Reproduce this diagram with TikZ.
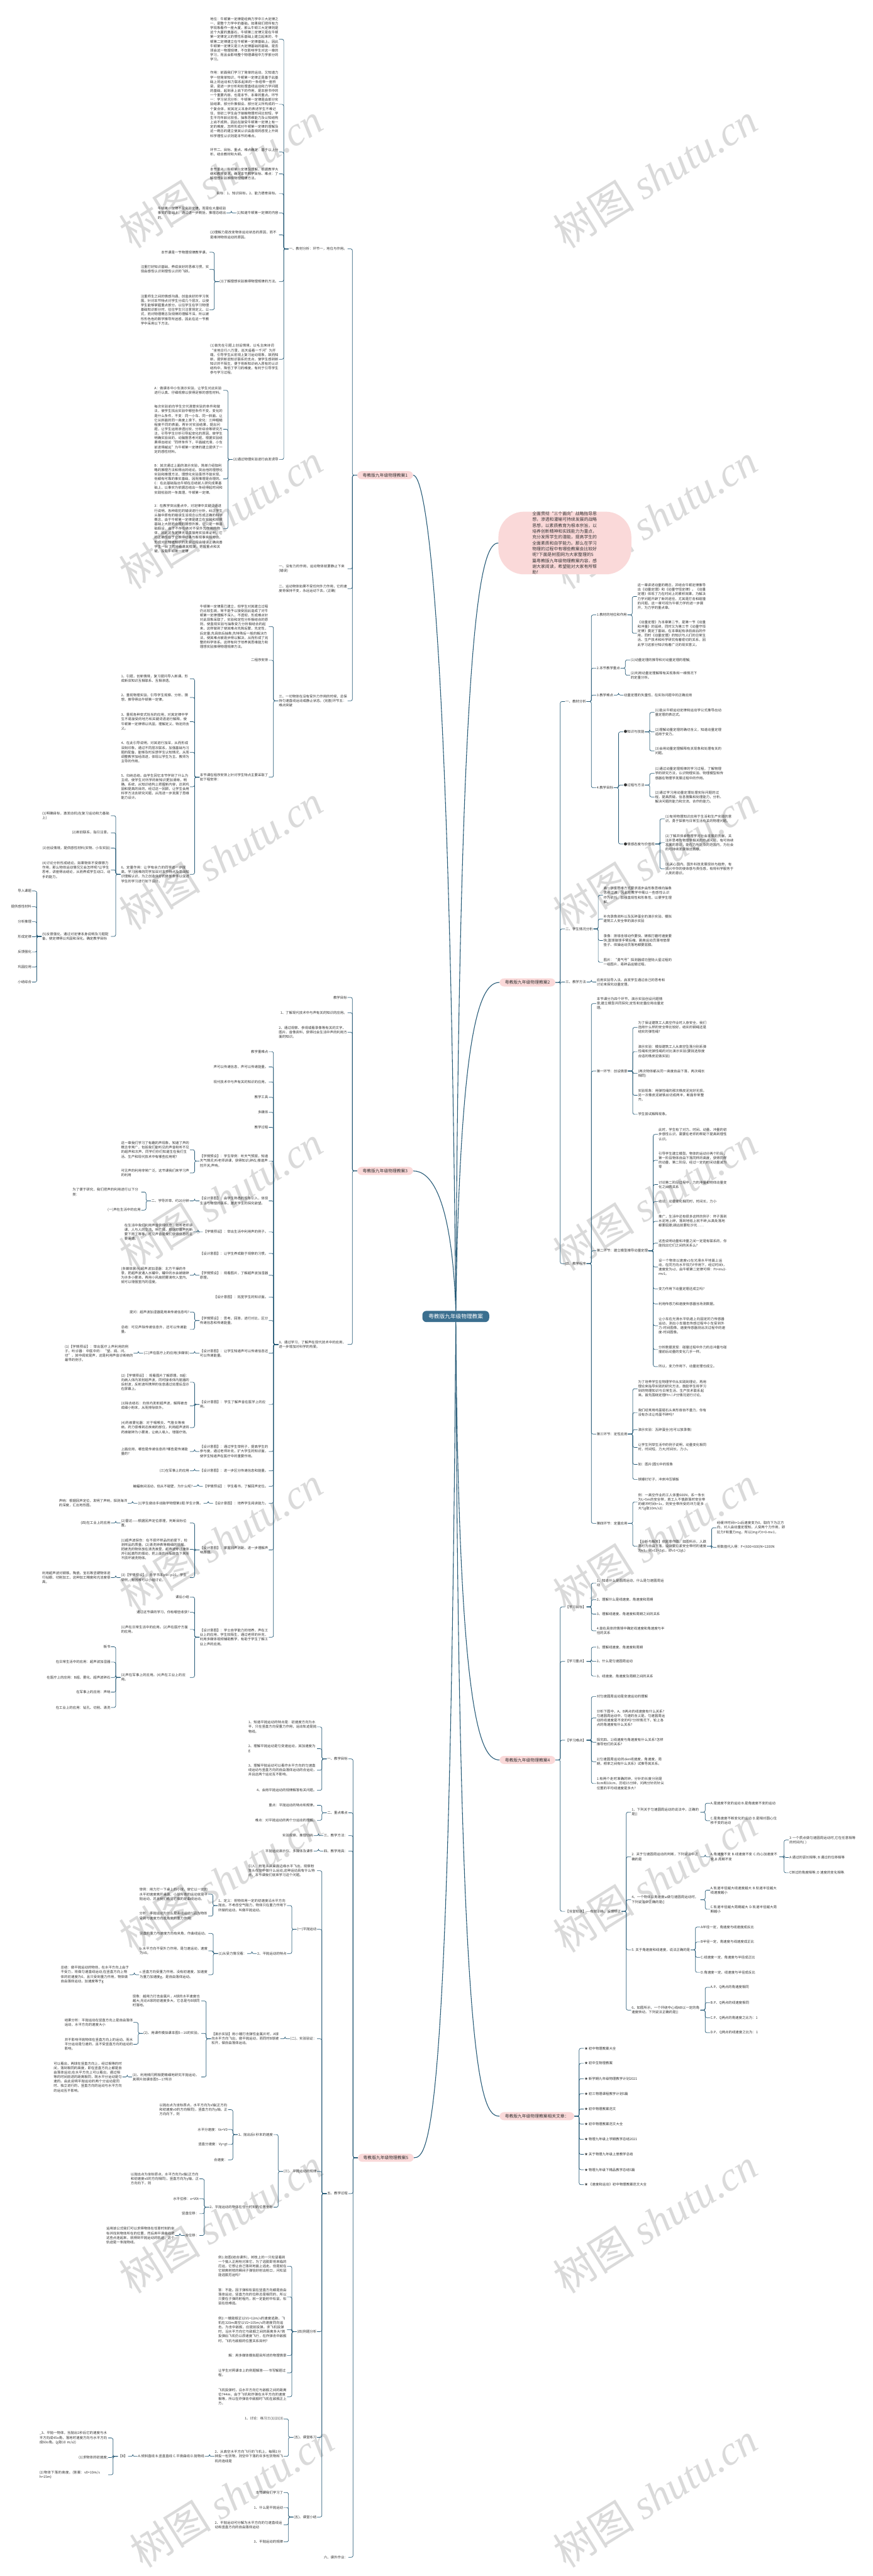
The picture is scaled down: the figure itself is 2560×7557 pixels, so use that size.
\documentclass[tikz,border=0pt]{standalone}
\usepackage{fontspec}
\setmainfont{Noto Sans CJK SC}
\newfontfamily\wmlat{Liberation Serif}
\XeTeXlinebreaklocale "zh"
\XeTeXlinebreakskip=0pt plus 0.5pt
\usetikzlibrary{calc}
\definecolor{txt}{RGB}{51,51,51}
\definecolor{lnc}{RGB}{36,89,118}
\definecolor{pinkc}{RGB}{250,217,217}
\definecolor{ctrc}{RGB}{59,111,143}
\definecolor{wmc}{RGB}{218,218,218}
\newcommand\fs{\fontsize{10pt}{13.2pt}\selectfont}
\newcommand\lchild[5]{\node[#1,anchor=east,xshift=-28pt] (#2) at (#3.west |- 0,#4) {#5};\draw[conn] (#3.west) -- ++(-14,0) |- (#2.east);}
\newcommand\rchild[5]{\node[#1,anchor=west,xshift=28pt] (#2) at (#3.east |- 0,#4) {#5};\draw[conn] (#3.east) -- ++(14,0) |- (#2.west);}
\tikzset{
 ts/.style={font=\fs,text=txt,inner sep=1.5pt},
 tm/.style={ts,text width=200pt,align=left},
 conn/.style={draw=lnc,line width=1.3pt,rounded corners=5pt},
 mainconn/.style={draw=lnc,line width=2pt},
 mn/.style={fill=pinkc,rounded corners=13pt,font=\fontsize{12.5pt}{15pt}\selectfont,text=txt,inner xsep=16pt,inner ysep=6pt},
 cn/.style={fill=ctrc,rounded corners=12pt,font=\fontsize{16pt}{19pt}\selectfont,text=white,inner xsep=18pt,inner ysep=9pt},
 intro/.style={fill=pinkc,rounded corners=75pt,minimum width=390pt,minimum height=182pt,text width=191pt,align=left,font=\fontsize{12.6pt}{17.2pt}\selectfont,text=txt,inner sep=0pt},
 wm/.style={text=wmc,font=\fontsize{120pt}{120pt}\selectfont,rotate=32}
}
\begin{document}
\begin{tikzpicture}[x=1pt,y=-1pt]
\useasboundingbox (0,0) rectangle (2560,7557);
\fill[white] (0,0) rectangle (2560,7557);
\foreach \yy in {515,1515,...,6515}{
 \node[wm] at (648,\yy) {树图 {\wmlat\itshape shutu.cn}};
 \node[wm] at (1922,\yy) {树图 {\wmlat\itshape shutu.cn}};
}
\node[wm] at (680,7320) {树图 {\wmlat\itshape shutu.cn}};
\node[wm] at (1922,7320) {树图 {\wmlat\itshape shutu.cn}};
% main nodes
\node[cn] (ctr) at (1337,3862) {粤教版九年级物理教案};
\node[intro] (intro) at (1657,1593) {全面贯彻“三个面向”战略指导思想，渗透和灌输可持续发展的战略思想，以素质教育为根本宗旨，以培养创新精神和实践能力为重点，充分发挥学生的潜能，提高学生的全面素质和自学能力。那么在学习物理的过程中有哪些教案会比较好呢?下面是树图网为大家整理的5篇粤教版九年级物理教案内容，感谢大家阅读，希望能对大家有所帮助！};
\node[mn,anchor=east] (n1) at (1212,1394) {粤教版九年级物理教案1};
\node[mn,anchor=west] (n2) at (1465,2882) {粤教版九年级物理教案2};
\node[mn,anchor=east] (n3) at (1212,3435) {粤教版九年级物理教案3};
\node[mn,anchor=west] (n4) at (1465,5163) {粤教版九年级物理教案4};
\node[mn,anchor=west] (n6) at (1465,6208) {粤教版九年级物理教案相关文章：};
\node[mn,anchor=east] (n5) at (1214,6330) {粤教版九年级物理教案5};
\draw[mainconn] (ctr.north) .. controls (1318,1800) and (1250,1394) .. (n1.east);
\draw[mainconn] (ctr.north) .. controls (1348,1800) and (1410,1593) .. (intro.west);
\draw[mainconn] (ctr.north) .. controls (1350,3000) and (1410,2882) .. (n2.west);
\draw[mainconn] (ctr.north) .. controls (1325,3500) and (1260,3435) .. (n3.east);
\draw[mainconn] (ctr.south) .. controls (1345,5050) and (1410,5163) .. (n4.west);
\draw[mainconn] (ctr.south) .. controls (1345,6100) and (1410,6208) .. (n6.west);
\draw[mainconn] (ctr.south) .. controls (1320,6250) and (1260,6330) .. (n5.east);
% ================= 篇1
\lchild{ts}{a1}{n1}{730}{一、教材分析：环节一，地位与作用。}
\lchild{tm}{a11}{a1}{115}{地位：牛顿第一定律是经典力学中三大定律之一，是整个力学中的基础。如果我们把所有力学现象看作一座大厦，那么牛顿三大定律则是这个大厦的奠基石，牛顿第二定律又是在牛顿第一定律定义的惯性系基础上建立起来的，牛顿第二定律建立在牛顿第一定律基础上。因此牛顿第一定律又是三大定律基础的基础，是否领会这一物理规律，不仅影响学生对这一章的学习，而且会影响整个物理课程中力学部分的学习。}
\lchild{tm}{a12}{a1}{306}{作用：前面我们学习了简单的运动，又知道力学一些简单知识，牛顿第一定律正是基于此基础上将运动和力联系起来的一条纽带一座桥梁，是进一步分析和处理直线运动和力学问题的基础，起到承上启下的作用，是本册书中的一个重要内容，也是本节、本章的重点。环节一：学习状况分析：牛顿第一定律是由部分实验结果，部分外推假设、部分定义所构成的一个复合体，就其定义本身的表述学生不难记住，但初二学生由于接触物理时间比较短，学生平均年龄比较低，抽象思维能力及认知结构上尚不成熟，因此在接受牛顿第一定律上有一定的难度，怎样形成对牛顿第一定律的理解及这一概念的建立使其认识由直观的感觉上升到科学理性认识则是本节的难点。}
\lchild{tm}{a13}{a1}{446}{环节二、目标、重点、难点确定：基于以上分析，结合教材和大纲。}
\lchild{tm}{a14}{a1}{510}{本节重点：牛顿第一定律及理解，根据教学大纲和教材要求，确定本节教学目标、难点：了解理想实验推得物理规律方法。}
\lchild{ts}{a15}{a1}{568}{目标：1、知识目标。2、能力德育目标。}
\lchild{ts}{a16}{a1}{625}{(1)知道牛顿第一定律的内容}
\lchild{tm}{a161}{a16}{625}{牛顿第一定律不是实验定律，而是在大量经验事实的基础上，通过进一步概括，推理总结出的。}
\lchild{tm}{a17}{a1}{689}{(2)理解力是改变物体运动状态的原因，而不是维持物体运动的原因。}
\lchild{ts}{a18}{a1}{826}{(3)了解理想实验推得物理规律的方法。}
\lchild{ts}{a181}{a18}{740}{本节课是一节物理规律教学课。}
\lchild{tm}{a182}{a18}{790}{注重打好知识基础，养成良好的思维习惯，实现由感性认识到理性认识的飞跃。}
\lchild{tm}{a183}{a18}{909}{注重师生之间的情感沟通，创造良好的学习氛围，针对本节特点对学生分成几个层次，以使学生能够掌握重点部分。以往学生在学习物理基础知识部分时，往往学生只注意背定义、公式，而对物理概念及规律的理解不深，所以被形形色色的数学推导所迷惑，因此在这一节教学中采用以下方法。}
\lchild{tm}{a19}{a1}{1054}{(1)首先在引题上创设情境，以毛主席诗词“坐地日行八万里，巡天遥看一千河”为开端，引导学生从宏观上复习运动现象，故而知新，提供新旧知识联系的支点，使学生感到新知识并不陌生，便于将新知识纳入原有的认识结构中，降低了学习的难度，有利于引导学生参与学习过程。}
\lchild{ts}{a1a}{a1}{1348}{(2)通过物理实验进行启发诱导}
\lchild{tm}{a1a1}{a1a}{1145}{A：做课本中小车演示实验，让学生对此实验进行认真、仔细观察以获得足够的感性材料。}
\lchild{tm}{a1a2}{a1a}{1259}{每次实验前向学生交代清楚实验的条件和做法，使学生找出实验中哪些条件不变，变化的是什么条件，不变：同一小车、同一斜面、让它从斜面的同一高度上滑下，变化：三种粗糙程度不同的表面，再针对实验结果，提出问题，让学生运用渗透比较，分析综合等研究方法，引导学生分析引导起变化的原因，使学生明确实验目的，动脑筋思考问题，根据实验结果得出结论“同样条件下，平面越光滑，小车前进得越远”为牛顿第一定律的建立提供了一定的感性材料。}
\lchild{tm}{a1a3}{a1a}{1405}{B：其次通过上面的演示实验，简单介绍伽利略的推理方法和得出的结论。突出他的理想化实验和推理方法，理想化实验虽然不能实现，但都有可靠的事实基础，因而推理是合理的。C：在此基础指出牛顿在总结前人研究成果基础上，以事实为依据总结出一条经得起时间和实践检验的一条真理，牛顿第一定律。}
\lchild{tm}{a1a4}{a1a}{1551}{3：在教学突出重点中，对定律中关键词语进行说明，各种易犯的错误进行分析，纠正学生头脑中原有的错误生活观念以形成正确的科学概念，由于牛顿第一定律是建立在实验和观察基础上大胆而合理的猜想外推，它只是一种基础假设，由于不存在绝对不受外力作用的物体，因此这条定律无法直接用实验来证明，它的正确性在于它推得结果与客观事实相吻合，形成对比知道知识的发展过程由错误正确完善学生一目了然地看清其框架，把握重点和关键，投影牛顿第一定律}
\lchild{tm}{b1}{n1}{1669}{一、没有力的作用，运动物体就要静止下来(错误)}
\lchild{tm}{b2}{n1}{1727}{二、运动物体如果不受任何外力作用，它的速度将保持不变，永远运动下去。(正确)}
\lchild{tm}{b3}{n1}{2056}{三、一切物体在没有受外力作用的时候，总保持匀速直线运动或静止状态。(完善)环节五：难点突破}
\lchild{tm}{b31}{b3}{1838}{牛顿第一定律虽已建立，但学生对其建立过程仍比较生疏，常不能予以接受因此造成了对牛顿第一定律理解不深入，不透彻，形成难点针对此现象采取了，实验和定性分析相结合的原则，使直观实验与抽象受力分析相结合的起来，这样做到了使其难点先简后繁，先定性，后定量;先具体后抽象;先特殊后一般的解决方法，使其难点被逐步得以解决，从而形成了完整的科学体系。这样有利于培养其思维能力和理想实验推得物理规律方法。}
\lchild{ts}{b32}{b3}{1937}{二程序安排}
\lchild{tm}{b33}{b3}{2280}{本节课在程序安排上针对学生特点主要采取了如下程安排：}
\lchild{tm}{b331}{b33}{1991}{1、引题，创新情境，复习提问导入新课。形成新旧知识互相联系、互相渗透。}
\lchild{tm}{b332}{b33}{2046}{2、重视物理实验，引导学生观察、分析、猜想，推导得出牛顿第一定律。}
\lchild{tm}{b333}{b33}{2117}{3、重视各种变式恰当的应用，对其定律中学生不易接受的地方和关键词语进行解释，使牛顿第一定律得以巩固，理解定义、特定的含义。}
\lchild{tm}{b334}{b33}{2207}{4、在此引导说明，对其进行加深，从而形成深刻印象，通过不同层次联系，加强基础与习题的配备，能够及时反馈学生认知情况，从而调整教学加经改进，体现以学生为主、教师为主导的作用。}
\lchild{tm}{b335}{b33}{2308}{5、归纳总结。由学生回忆本节学到了什么为主线，使学生对所学的新知识更加清晰，明确、系统，从知识结构上把握新内容，达到巩固和提高的目的，经过这一回顾，让学生会用科学方法去研究问题，从而进一步发展了思维能力设计。}
\lchild{tm}{b336}{b33}{2565}{6、定量作用：让学有余力的同学进一步提高，学习困难的同学加深对本节特点及基础知识理解认识，为之创造良好的外部条件以促进学生的学习进行如下设计。}
\lchild{tm}{b3361}{b336}{2393}{(1)明确目标，激发动机(在复习运动和力基础上)}
\lchild{ts}{b3362}{b336}{2443}{(2)新旧联系，指引注意。}
\lchild{ts}{b3363}{b336}{2488}{(3)创设情境，提供感性材料(实物、小车实验)}
\lchild{tm}{b3364}{b336}{2552}{(4)讨论分析形成结论。如果物体不受摩擦力作用，那么物体运动情况又会怎样呢?让学生思考，讲座得出结论，从而养成学生动口，动手的能力。}
\lchild{tm}{b3365}{b336}{2747}{(5)反馈强化，通过对定律本身说明及习题配备，使定律得以巩固和深化。确定教学目标}
\lchild{ts}{g1}{b3365}{2614}{导入课题}
\lchild{ts}{g2}{b3365}{2660}{提供感性材料}
\lchild{ts}{g3}{b3365}{2704}{分析推理}
\lchild{ts}{g4}{b3365}{2748}{形成定律}
\lchild{ts}{g5}{b3365}{2793}{反馈强化}
\lchild{ts}{g6}{b3365}{2837}{巩固应用}
\lchild{ts}{g7}{b3365}{2881}{小结综合}
% ================= 篇2
\rchild{ts}{c1}{n2}{2058}{一、教材分析}
\rchild{ts}{c11}{c1}{1804}{1.教材的地位和作用}
\rchild{tm}{c111}{c11}{1750}{这一章讲述动量的概念，并结合牛顿定律推导出《动量定理》和《动量守恒定律》。《动量定理》体现了力在时间上的累积效果，为解决力学问题开辟了新的途径，尤其是打击和碰撞的问题。这一章可视为牛顿力学的进一步展开，为力学的重点章。}
\rchild{tm}{c112}{c11}{1858}{《动量定理》为本章第二节，是第一节《动量和冲量》的延续，同时又为第三节《动量守恒定律》奠定了基础，在本章起有承前启后的作用，同时《动量定理》的知识与人们的日常生活、生产技术和科学研究有着密切的关系，因此学习这部分知识有着广泛的现实意义。}
\rchild{ts}{c12}{c1}{1960}{2.本节教学重点}
\rchild{ts}{c121}{c12}{1936}{(1)动量定理的推导和对动量定理的理解;}
\rchild{tm}{c122}{c12}{1981}{(2)利用动量定理解释有关现象和一维情况下的定量分析。}
\rchild{ts}{c13}{c1}{2039}{3.教学难点}
\rchild{ts}{c131}{c13}{2039}{动量定理的矢量性，在实际问题中的正确应用}
\rchild{ts}{c14}{c1}{2311}{4.教学目标}
\rchild{ts}{c141}{c14}{2147}{●知识与技能}
\rchild{tm}{c1411}{c141}{2090}{(1)能从牛顿运动定律和运动学公式推导出动量定理的表达式。}
\rchild{tm}{c1412}{c141}{2147}{(2)理解动量定理的确切含义，知道动量定理适用于变力。}
\rchild{tm}{c1413}{c141}{2203}{(3)会用动量定理解释有关现象和处理有关的问题。}
\rchild{ts}{c142}{c14}{2303}{●过程与方法}
\rchild{tm}{c1421}{c142}{2269}{(1)通过动量定理规律的学习过程，了解物理学的研究方法，认识物理实验、物理模型和传感器在物理学发展过程中的作用。}
\rchild{tm}{c1422}{c142}{2338}{(2)通过学习用动量定理处理实际问题的过程，提高质疑、信息搜集和处理能力，分析、解决问题的能力和交流、合作的能力。}
\rchild{ts}{c143}{c14}{2476}{●情感态度与价值观}
\rchild{tm}{c1431}{c143}{2402}{(1)有将物理知识应用于生活和生产实践的意识，勇于探索与日常生活有关的物理问题。}
\rchild{tm}{c1432}{c143}{2472}{(2)了解并体会物理学对社会发展的贡献，关注并思考与物理学相关的热点问题，有可持续发展的意识，能在力所能及的范围内，为社会的可持续发展做出贡献。}
\rchild{tm}{c1433}{c143}{2549}{(3)关心国内、国外科技发展现状与趋势，有振兴中华的使命感与责任感，有将科学服务于人类的意识。}
\rchild{ts}{c2}{n2}{2725}{二、学生情况分析}
\rchild{tm}{c21}{c2}{2626}{高一学生思维方式要求逐步由形象思维向抽象思维过渡，因此在教学中需以一些感性认识作为依托，加强直观性和形象性，以便学生理解。}
\rchild{tm}{c22}{c2}{2696}{补充录像资料以及瓦碎蛋全的演示实验、模拟建筑工人安全带的演示实验}
\rchild{tm}{c23}{c2}{2759}{录像：排球击球动作要快、铸铁打磨时速度要快;篮球接球手臂后缩、跳高运动员落地垫厚垫子、体操运动员落地都要屈膝。}
\rchild{tm}{c24}{c2}{2823}{图片：“勇气号”探测器成功登陆火星过程的一组图片，易碎品运输过程。}
\rchild{ts}{c3}{n2}{2881}{三、教学方法}
\rchild{tm}{c31}{c3}{2881}{应用实验导入法、启发学生通过自己的思考和讨论来探究动量定理。}
\rchild{ts}{c4}{n2}{3707}{四、教学程序}
\rchild{tm}{c41}{c4}{2944}{本节课分为四个环节，演示实验创设问题情景;建立模型共同探究;定性和定量应用动量定理。}
\rchild{ts}{c42}{c4}{3142}{第一环节：创设情景}
\rchild{tm}{c421}{c42}{3014}{为了保证建筑工人高空作业时人身安全，我们选用什么样的安全带比较好。结实的钢绳还是结实的弹性绳?}
\rchild{tm}{c422}{c42}{3085}{演示实验：模拟建筑工人从高空坠落分别系弹性绳和无弹性绳的对比演示实验(要挑选软度合适的橡皮泥做实验)}
\rchild{tm}{c423}{c42}{3149}{(两次物体都从同一高度自由下落，两次绳长相同)}
\rchild{tm}{c424}{c42}{3213}{实验现象：用弹性绳的那次橡皮泥完好无损。另一次橡皮泥被铁丝切成两半，断面非常整齐。}
\rchild{ts}{c425}{c42}{3269}{学生尝试解释现象。}
\rchild{ts}{c43}{c4}{3669}{第二环节：建立模型推导动量定理}
\rchild{tm}{c431}{c43}{3328}{此时，学生有了对力、时间、动量、冲量的初步感性认识，需要在老师的帮助下提高到理性认识。}
\rchild{tm}{c432}{c43}{3404}{引导学生建立模型。物体的运动分两个阶段，第一阶段物体自由下落同样的高度，获得同样的动量，第二阶段，经过一定的时间动量减为零}
\rchild{tm}{c433}{c43}{3475}{讨论第二阶段过程中，力的冲量和物体动量变化之间的关系}
\rchild{ts}{c434}{c43}{3525}{结论：动量变化相同时，时间长，力小}
\rchild{tm}{c435}{c43}{3583}{推广，生活中还有很多这样的例子：杯子落到水泥地上碎，落到地毯上就不碎;从高处落地都要屈膝;跳远前要松沙坑……}
\rchild{tm}{c436}{c43}{3647}{这些说明动量和冲量之间一定是有联系的，你能找出它们之间的关系么?}
\rchild{tm}{c437}{c43}{3717}{设一个物体以速度v1在光滑水平地面上运动，在同方向水平恒力F作用下，经过时间t，速度变为v2，由牛顿第二定律可得：Ft=mv2-mv1。}
\rchild{ts}{c438}{c43}{3781}{变力作用下动量定理还成立吗?}
\rchild{ts}{c439}{c43}{3825}{利用传感力和速度传感器当场测数据。}
\rchild{tm}{c4310}{c43}{3889}{让小车在光滑水平轨道上向固定的力传感器运动，测出小车撞击传感过程中小车受到外力-时间图像，速度传感器测出次过程中的速度-时间图像。}
\rchild{tm}{c4311}{c43}{3959}{分析数据发现：碰撞过程中外力的总冲量与碰撞前后动量的变化几乎一样。}
\rchild{ts}{c4312}{c43}{4009}{所以，变力作用下，动量定理也成立。}
\rchild{ts}{c44}{c4}{4207}{第三环节：定性应用}
\rchild{tm}{c441}{c44}{4074}{为了培养学生在物理学中从实践到理论，再用理论来指导实践的研究方法，鼓励学生将学习到的物理知识与日常生活、生产技术联系起来。首先围绕定理Ft=△P分情况进行讨论。}
\rchild{tm}{c442}{c44}{4144}{我们经常用鸡蛋碰石头来形容自不量力，你有没有办法让鸡蛋不碎吗?}
\rchild{ts}{c443}{c44}{4194}{演示实验：瓦碎蛋全(也可以放录像)}
\rchild{tm}{c444}{c44}{4246}{让学生列举生活中的例子说明，动量变化相同时，时间短，力大;时间长，力小。}
\rchild{ts}{c445}{c44}{4296}{如：图片(图5)中的现象}
\rchild{ts}{c446}{c44}{4340}{铁锤钉钉子，冲床冲压钢板}
\rchild{ts}{c45}{c4}{4469}{第四环节：定量应用}
\rchild{tm}{c451}{c45}{4406}{例：一高空作业的工人体重600N，系一条长为L=5m的安全带，若工人不慎跌落时安全带的缓冲时间t=1s，则安全带所受的冲力是多大?(g取10m/s2)}
\rchild{tm}{c452}{c45}{4536}{【分析与解答】依题意作图，如图所示，人跌落时为自由下落，设刚要拉紧安全带时的速度为v1，则v12=2gL，即v1=(2gL)}
\rchild{tm}{c4521}{c452}{4482}{经缓冲时间t=1s后速度变为0，取向下为正方向，对人由动量定理知，人受两个力作用，即拉力F和重力mg，所以(mg-F)t=0-mv1，}
\rchild{ts}{c4522}{c452}{4539}{将数值代入得：F=(600+600)N=1200N}
% ================= 篇3
\lchild{ts}{d1}{n3}{2926}{教学目标}
\lchild{ts}{d2}{n3}{2971}{1、了解现代技术中与声有关的知识的应用。}
\lchild{tm}{d3}{n3}{3028}{2、通过观察、参观或看录像等有关的文字、图片、音像资料，获得社会生活中声的利用方面的知识。}
\lchild{tm}{d4}{n3}{3944}{3、通过学习，了解声在现代技术中的应用，进一步增加对科学的热爱。}
\lchild{ts}{q1}{d4}{3085}{教学重难点}
\lchild{ts}{q2}{d4}{3130}{声可以传递信息，声可以传递能量。}
\lchild{ts}{q3}{d4}{3174}{现代技术中与声有关的知识的应用。}
\lchild{ts}{q4}{d4}{3219}{教学工具}
\lchild{ts}{q5}{d4}{3263}{多媒体}
\lchild{ts}{q6}{d4}{3307}{教学过程}
\lchild{tm}{q7}{d4}{3406}{【学情预设】：学生举例：听天气预报，知道天气情况;听老师讲课，获得知识;碎石;楼道声控开关;声呐。}
\lchild{tm}{q71}{q7}{3373}{这一章我们学习了有趣的声现象，知道了声的概念非常广，包括我们能听见的声音和听不见的超声和次声，同学们你们知道生在我们生活、生产和现代技术中有哪些应用呢?}
\lchild{tm}{q72}{q7}{3441}{可见声的利用非常广泛，这节课我们来学习声的利用}
\lchild{tm}{q8}{d4}{3523}{【设计意图】：由学生熟悉的现象引入，体现生活与物理的联系，激发学生的探究欲望。}
\lchild{ts}{q81}{q8}{3523}{二、学导并举、约26分钟}
\lchild{tm}{q811}{q81}{3497}{为了便于研究，我们把声的利用进行以下分类：}
\lchild{ts}{q812}{q81}{3550}{(一)声在生活中的应用}
\lchild{ts}{q9}{d4}{3614}{【学情预设】：举出生活中利用声的例子。}
\lchild{tm}{q91}{q9}{3614}{在生活中我们利用声音获得信息：如听老师讲课，人与人的交流，听广播，根据打雷声判断要下雨了等等，可见声音是我们获得信息的主要渠道。}
\lchild{ts}{q10}{d4}{3677}{【设计意图】：让学生养成勤于观察的习惯。}
\lchild{tm}{q11}{d4}{3741}{【学情预设】：观看图片，了解超声波加湿器原理。}
\lchild{tm}{q111}{q11}{3741}{(多媒体展示)超声波加湿器：北方干燥的冬季，把超声波通入水罐中，罐中的水会被破碎为许多小雾滴，再用小风扇把雾滴吹入室内，就可以增强室内的湿度。}
\lchild{ts}{q12}{d4}{3805}{【设计意图】：拓宽学生的知识面。}
\lchild{tm}{q13}{d4}{3874}{【学情预设】：思考，回答，进行对比，区分传递信息和传递能量。}
\lchild{ts}{q131}{q13}{3849}{提问：超声波加湿器是用来传递信息吗?}
\lchild{tm}{q132}{q13}{3900}{总结：可见声除传递信息外，还可以传递能量。}
\lchild{tm}{q14}{d4}{3970}{【设计意图】：让学生知道声可以传递信息还可以传递能量。}
\lchild{ts}{q141}{q14}{3970}{(二)声在医疗上的应用(多媒体)}
\lchild{tm}{q1411}{q141}{3970}{(1)【学情预设】：举出医疗上声利用的例子。听诊器：中医中的：“望、闻、问、切”，其中闻就是声，这是利用声音诊断病的最早的例子。}
\lchild{tm}{q15}{d4}{4120}{【设计意图】：学生了解声音在医学上的应用。}
\lchild{tm}{q151}{q15}{4055}{(2)【学情预设】：观看图片了解原理。B超：向病人体内发射超声波，同时接收体内脏器的反射波，反射波所携带的信息通过处理后显示在屏幕上。}
\lchild{tm}{q152}{q15}{4124}{(3)除去结石：向体内发射超声波，解释被击成细小粉末，从而排除体外。}
\lchild{tm}{q153}{q15}{4188}{(4)药液雾化器：对于咽喉炎、气管炎等疾病，药力很难到达疾病的部位，利用超声波将药液破碎为小雾滴，让病人吸入，增强疗效。}
\lchild{tm}{q16}{d4}{4258}{【设计意图】：通过学生举例子，提高学生的参与度，通过老师补充，扩大学生的知识面，使学生知道声在医疗中的重要作用。}
\lchild{tm}{q161}{q16}{4258}{上面应用，哪些是传递信息的?哪些是传递能量的?}
\lchild{ts}{q17}{d4}{4315}{【设计意图】：进一步区分传递信息和能量。}
\lchild{ts}{q171}{q17}{4315}{(三)在军事上的应用}
\lchild{ts}{q18}{d4}{4360}{【学情预设】：学生看书，了解回声定位。}
\lchild{ts}{q181}{q18}{4360}{蝙蝠夜间活动，但从不碰壁，为什么呢?}
\lchild{ts}{q19}{d4}{4410}{【设计意图】：培养学生阅读能力。}
\lchild{ts}{q191}{q19}{4410}{(1)学生做动手动脑学物理第2题.学生计算。}
\lchild{tm}{q1911}{q191}{4410}{声呐：根据回声定位，发明了声呐，探测海洋的深度，汇出地形图。}
\lchild{tm}{q20}{d4}{4547}{【设计意图】：掌握回声测距，进一步理解声呐原理。}
\lchild{tm}{q201}{q20}{4468}{(2)雷达——根据回声定位原理，判断目标位置。}
\lchild{ts}{q2011}{q201}{4468}{(四)在工业上的应用}
\lchild{tm}{q202}{q20}{4545}{(1)超声波探伤：在不损坏样品的前提下，检测样品的质量。(2)清洗钟表等精细的机械。把被洗的物体放在清洗液里，超声波穿过液体并引起激烈的振动，把上面的污垢敲击下来而不损坏被洗物体。}
\lchild{tm}{q203}{q20}{4628}{(3)【学情预设】：自学书本p9—p10，学生举例，有困难可以小组讨论。}
\lchild{tm}{q2031}{q203}{4628}{利用超声波对钢铁，陶瓷、宝石等坚硬物体进行钻眼、切削加工，这种加工精度和光洁度很高。}
\lchild{tm}{q21}{d4}{4803}{【设计意图】：学士自学能力的培养，声在工业上的应用，学生较陌生，通过老师的补充，利用多媒体视频辅助教学，有助于学生了解工业上声的应用。}
\lchild{ts}{q211}{q21}{4685}{课后小结}
\lchild{ts}{q212}{q21}{4730}{通过这节课的学习，你有哪些收获?}
\lchild{tm}{q213}{q21}{4780}{(1)声在日常生活中的应用。(2)声在医疗方面的应用。}
\lchild{tm}{q214}{q21}{4921}{(3)声在军事上的应用。(4)声在工业上的应用。}
\lchild{ts}{q2141}{q214}{4831}{板书}
\lchild{ts}{q2142}{q214}{4876}{在日常生活中的应用：超声波加湿器}
\lchild{ts}{q2143}{q214}{4921}{在医疗上的应用：B超、雾化、超声波碎石}
\lchild{ts}{q2144}{q214}{4964}{在军事上的应用：声呐}
\lchild{ts}{q2145}{q214}{5009}{在工业上的应用：钻孔、切削、清洗}
% ================= 篇4
\rchild{ts}{e1}{n4}{4714}{【学习目标】}
\rchild{tm}{e11}{e1}{4644}{1、知道什么是圆周运动，什么是匀速圆周运动}
\rchild{ts}{e12}{e1}{4693}{2、理解什么是线速度、角速度和周期}
\rchild{ts}{e13}{e1}{4735}{3、理解线速度、角速度和周期之间的关系}
\rchild{tm}{e14}{e1}{4784}{4.能在具体的情境中确定线速度和角速度与半径的关系}
\rchild{ts}{e2}{n4}{4874}{【学习重点】}
\rchild{ts}{e21}{e2}{4832}{1、理解线速度、角速度和周期}
\rchild{ts}{e22}{e2}{4874}{2、什么是匀速圆周运动}
\rchild{ts}{e23}{e2}{4917}{3、线速度、角速度及周期之间的关系}
\rchild{ts}{e3}{n4}{5105}{【学习难点】}
\rchild{ts}{e31}{e3}{4977}{对匀速圆周运动是变速运动的理解}
\rchild{tm}{e32}{e3}{5040}{分析下图中，A、B两点的线速度有什么关系?匀速圆周运动中，匀速的含义是。匀速圆周运动的线速度是不变的吗?分析情况下，轮上各点的角速度有什么关系?}
\rchild{tm}{e33}{e3}{5111}{探究四、1)线速度与角速度有什么关系?怎样推导他们的关系?}
\rchild{tm}{e34}{e3}{5168}{2)匀速圆周运动的den线速度，角速度，周期，频率之间有什么关系》试推导其关系。}
\rchild{tm}{e35}{e3}{5232}{1.有两个走时准确的钟，分针的长度分别是8cm和10cm，历经15分钟，问两分针的针尖位置的平均线速度是多大?}
\rchild{ts}{e4}{n4}{5607}{【当堂检测】----有效训练、反馈矫正}
\rchild{tm}{e41}{e4}{5316}{1、下列关于匀速圆周运动的说法中，正确的是()}
\rchild{ts}{e411}{e41}{5290}{A.是速度不变的运动 B.是角速度不变的运动}
\rchild{tm}{e412}{e41}{5341}{C.是角速度不断变化的运动 D.是相对圆心位移不变的运动}
\rchild{tm}{e42}{e4}{5447}{2. 关于匀速圆周运动的判断，下列说法中正确的是}
\rchild{tm}{e421}{e42}{5447}{A.角速度不变 B.线速度不变 C.向心加速度不变 D.周期不变}
\rchild{tm}{e4211}{e421}{5398}{3 一个质点做匀速圆周运动时,它在任意相等的时间内( )}
\rchild{ts}{e4212}{e421}{5449}{A 通过的弧长相等; B 通过的位移相等}
\rchild{ts}{e4213}{e421}{5494}{C转过的角度相等; D 速度的变化相等.}
\rchild{tm}{e43}{e4}{5573}{4、一个物体以角速度ω做匀速圆周运动时，下列说法中正确的是()}
\rchild{tm}{e431}{e43}{5545}{A.轨道半径越大线速度越大 B.轨道半径越大线速度越小}
\rchild{tm}{e432}{e43}{5601}{C.轨道半径越大周期越大 D.轨道半径越大周期越小}
\rchild{ts}{e44}{e4}{5720}{5. 关于角速度和线速度，说法正确的是}
\rchild{ts}{e441}{e44}{5653}{A半径一定，角速度与线速度成反比}
\rchild{ts}{e442}{e44}{5697}{B半径一定，角速度与线速度成正比}
\rchild{ts}{e443}{e44}{5742}{C.线速度一定，角速度与半径成正比}
\rchild{ts}{e444}{e44}{5786}{D.角速度一定，线速度与半径成反比}
\rchild{tm}{e45}{e4}{5897}{6、如图所示，一个环绕中心线AB以一定的角速度转动，下列说法正确的是()}
\rchild{ts}{e451}{e45}{5830}{A.P、Q两点的角速度相同}
\rchild{ts}{e452}{e45}{5875}{B.P、Q两点的线速度相同}
\rchild{ts}{e453}{e45}{5919}{C.P、Q两点的角速度之比为：1}
\rchild{ts}{e454}{e45}{5963}{D.P、Q两点的线速度之比为：1}
% ================= 相关文章
\rchild{ts}{r1}{n6}{6009}{★ 初中物理教案大全}
\rchild{ts}{r2}{n6}{6053}{★ 初中生物理教案}
\rchild{ts}{r3}{n6}{6098}{★ 新学期九年级物理教学计划2021}
\rchild{ts}{r4}{n6}{6142}{★ 初三物理课程教学计划5篇}
\rchild{ts}{r5}{n6}{6187}{★ 初中物理教案范文}
\rchild{ts}{r6}{n6}{6231}{★ 初中物理教案范文大全}
\rchild{ts}{r7}{n6}{6276}{★ 物理九年级上学期教学总结2021}
\rchild{ts}{r8}{n6}{6320}{★ 关于物理九年级上册教学总结}
\rchild{ts}{r9}{n6}{6365}{★ 物理九年级下精品教学总结5篇}
\rchild{ts}{r10}{n6}{6409}{★ 《速度和运动》初中物理教案范文大全}
% ================= 篇5
\lchild{ts}{f1}{n5}{5160}{一、教学目标}
\lchild{tm}{f11}{f1}{5066}{1、知道平抛运动的特点是：初速度方向为水平，只在竖直方向受重力作用，运动轨迹是抛物线。}
\lchild{tm}{f12}{f1}{5130}{2、理解平抛运动是匀变速运动，其加速度为g}
\lchild{tm}{f13}{f1}{5193}{3、理解平抛运动可以看作水平方向的匀速直线运动与竖直方向的自由落体运动的合运动，并且这两个运动互不影响。}
\lchild{ts}{f14}{f1}{5252}{4、会用平抛运动的规律解答有关问题。}
\lchild{ts}{f2}{n5}{5318}{二、重点难点}
\lchild{ts}{f21}{f2}{5296}{重点：平抛运动的特点和规律。}
\lchild{ts}{f22}{f2}{5340}{难点：对平抛运动的两个分运动的理解。}
\lchild{ts}{f3}{n5}{5385}{三、教学方法：}
\lchild{ts}{f31}{f3}{5385}{实验观察、推理归纳}
\lchild{ts}{f4}{n5}{5430}{四、教学用具：}
\lchild{ts}{f41}{f4}{5430}{平抛运动演示仪、多媒体及课件}
\lchild{ts}{f5}{n5}{6435}{五、教学过程}
\lchild{tm}{h1}{f5}{5488}{引入：粉笔头从桌面边缘水平飞出，观察粉笔头在空中做什么运动,这种运动具有什么特点，本节课我们就来学习这个问题。}
\lchild{ts}{h2}{f5}{5660}{(一)平抛运动}
\lchild{tm}{h21}{h2}{5590}{1、定义：将物体用一定的初速度沿水平方向抛出，不考虑空气阻力，物体只在重力作用下所做的运动，叫做平抛运动。}
\lchild{tm}{h211}{h21}{5557}{举例：用力打一下桌上的小球，使它以一定的水平初速度离开桌面，小球所做的运动就是平抛运动，并且我们看见它做的是曲线运动。}
\lchild{tm}{h212}{h21}{5621}{分析：平抛运动为什么是曲线运动?(因为物体受到与速度方向成角度的重力作用)}
\lchild{ts}{h22}{h2}{5731}{2、平抛运动的特点}
\lchild{ts}{h221}{h22}{5731}{(1)从受力情况看：}
\lchild{ts}{h2211}{h221}{5672}{竖直的重力与速度方向有夹角，作曲线运动。}
\lchild{tm}{h2212}{h221}{5723}{b.水平方向不受外力作用，是匀速运动，速度为V0。}
\lchild{tm}{h2213}{h221}{5793}{c.竖直方向受重力作用，没有初速度，加速度为重力加速度g，是自由落体运动。}
\lchild{tm}{h22131}{h2213}{5793}{总结：做平抛运动的物体，在水平方向上由于不受力，将做匀速直线运动;在竖直方向上物体的初速度为0，且只受到重力作用，物体做自由落体运动，加速度等于g}
\lchild{ts}{h3}{f5}{5981}{(二)、实验验证：}
\lchild{tm}{h31}{h3}{5981}{【演示实验】用小锤打击弹性金属片时，A球向水平方向飞出，做平抛运动，而同时B球被松开，做自由落体运动。}
\lchild{tm}{h311}{h31}{5870}{现象：越用力打击金属片，A球的水平速度也越大;无论A球的初速度多大，它总是与B球同时落地。}
\lchild{ts}{h312}{h31}{5965}{(2)、用课件模拟课本图5—16的实验。}
\lchild{tm}{h3121}{h312}{5933}{结果分析：平抛运动在竖直方向上是自由落体运动，水平方向的速度大小}
\lchild{tm}{h3122}{h312}{5997}{并不影响平抛物体在竖直方向上的运动。而水平分运动是匀速的，且不受竖直方向的运动的影响。}
\lchild{tm}{h313}{h31}{6093}{(3)、利用频闪照相更精细地研究平抛运动，其照片如课本图5—17所示}
\lchild{tm}{h3131}{h313}{6093}{可以看出，两球在竖直方向上，经过相等的时间，落到相同的高度，即在竖直方向上都是自由落体运动;在水平方向上可以看出，通过相等的时间前进的距离相同，既水平分运动是匀速的。由此说明平抛运动的两个分运动是同时、独立进行的，竖直方向的运动与水平方向的运动互不影响。}
\lchild{ts}{h4}{f5}{6370}{(三)、平抛运动的规律}
\lchild{ts}{h41}{h4}{6262}{1、抛出后t 秒末的速度}
\lchild{tm}{h411}{h41}{6189}{以抛出点为坐标原点，水平方向为x轴(正方向和初速度v0的方向相同)，竖直方向为y轴，正方向向下，则}
\lchild{ts}{h412}{h41}{6247}{水平分速度：Vx=V0}
\lchild{ts}{h413}{h41}{6291}{竖直分速度：Vy=gt}
\lchild{ts}{h414}{h41}{6336}{合速度：}
\lchild{ts}{h42}{h4}{6475}{2、平抛运动的物体在任一时刻的位置坐标}
\lchild{tm}{h421}{h42}{6392}{以抛出点为坐标原点，水平方向为x轴(正方向和初速度v0的方向相同)，竖直方向为y轴，正方向向下，则}
\lchild{ts}{h422}{h42}{6450}{水平位移：x=V0t}
\lchild{ts}{h423}{h42}{6494}{竖直位移：}
\lchild{ts}{h424}{h42}{6558}{合位移：}
\lchild{tm}{h4241}{h424}{6558}{运用该公式我们可以求得物体在任意时刻的坐标并找到物体所在的位置，然后用平滑曲线把这些点连起来，就得到平抛运动的轨迹，这个轨迹是一条抛物线。}
\lchild{ts}{h5}{f5}{6840}{(四)例题分析}
\lchild{tm}{h51}{h5}{6648}{例1.如图(结合课件)，树枝上的一只松鼠看到一个猎人正用枪对准它，为了逃脱即将来临的厄运，它想让自己落到地面上逃走。但是就在它掉离树枝的瞬间子弹恰好射出枪口，问松鼠能逃脱厄运吗?}
\lchild{tm}{h52}{h5}{6738}{答：不能。因子弹和松鼠在竖直方向都是自由落体运动，竖直方向的位移总是相同的，所以只要在子弹的射程内，就一定能射中松鼠，松鼠在劫难逃。}
\lchild{tm}{h53}{h5}{6834}{例2.一艘敌舰正以V1=12m/s的速度逃跑，飞机在320m高空以V2=105m/s的速度同向追击。为击中敌舰，应提前投弹。求飞机投弹时，沿水平方向它与敌舰之间的距离多大?若投弹后飞机仍以原速度飞行，在炸弹击中敌舰时，飞机与敌舰的位置关系如何?}
\lchild{ts}{h54}{h5}{6910}{解：用多媒体模拟题目所述的物理情景}
\lchild{tm}{h55}{h5}{6961}{让学生对照课本上的例题解答——书写解题过程。}
\lchild{tm}{h56}{h5}{7031}{飞机投弹时，沿水平方向它与敌舰之间的距离位744m，由于飞机和炸弹在水平方向的速度相等，所以在炸弹击中敌舰时飞机在敌舰正上方。}
\lchild{ts}{h6}{f5}{7150}{(五)、课堂练习}
\lchild{ts}{h61}{h6}{7096}{1、讨论：练习三(1)(2)(3)}
\lchild{tm}{h62}{h6}{7206}{2、从高空水平方向飞行的飞机上，每隔1分钟投一包货物，则空中下落的许多包货物和飞机的连线是}
\lchild{ts}{h621}{h62}{7206}{A.倾斜直线 B.竖直直线 C.平滑曲线 D.抛物线}
\lchild{ts}{h6211}{h621}{7206}{【B】}
\lchild{tm}{h62111}{h6211}{7152}{\_3、平抛一物体，当抛出1秒后它的速度与水平方向成45o角，落地时速度方向与水平方向成60o角。(g取10 m/s2)}
\lchild{ts}{h62112}{h6211}{7209}{(1)求物体的初速度;}
\lchild{tm}{h62113}{h6211}{7260}{(2)物体下落的高度。(答案：v0=10m/s h=15m)}
\lchild{ts}{h7}{f5}{7384}{(五)、课堂小结}
\lchild{ts}{h71}{h7}{7312}{本节课我们学习了}
\lchild{ts}{h72}{h7}{7356}{1、什么是平抛运动}
\lchild{tm}{h73}{h7}{7407}{2、平抛运动可分解为水平方向的匀速直线运动和竖直方向的自由落体运动}
\lchild{ts}{h74}{h7}{7457}{3、平抛运动的规律}
\lchild{ts}{f6}{n5}{7502}{六、课外作业：}
\end{tikzpicture}
\end{document}
